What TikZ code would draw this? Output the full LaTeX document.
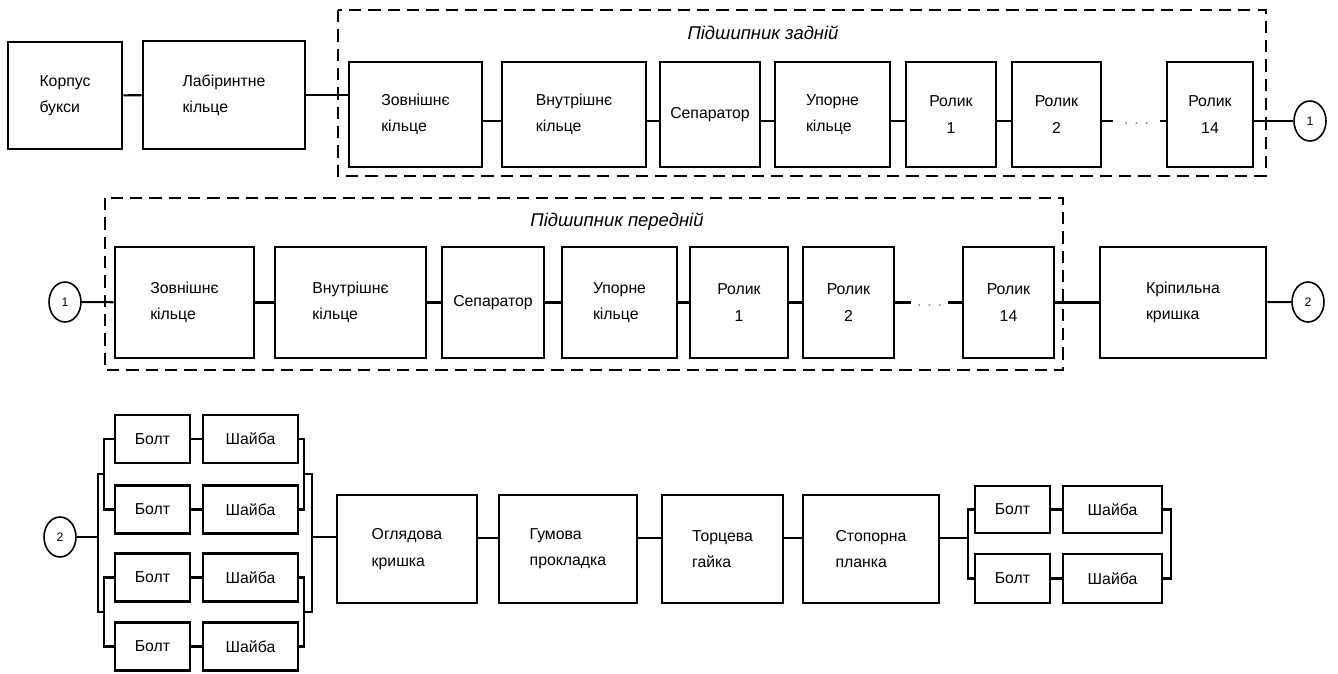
\documentclass[tikz,border=0pt]{standalone}
\usepackage{fontspec}
\setmainfont{Liberation Sans}
\usetikzlibrary{calc,shapes.geometric}

\tikzset{
  blk/.style 2 args={draw,line width=1.5pt,minimum width=#1*0.02cm,minimum height=#2*0.02cm,
    inner sep=0pt,align=left,font=\fontsize{9}{15}\selectfont},
  cn/.style={line width=1.2pt},
  grp/.style={line width=1.3pt,dash pattern=on 7pt off 4pt},
  refc/.style={draw,ellipse,line width=0.9pt,minimum width=0.64cm,minimum height=0.8cm,
    inner sep=0pt,font=\fontsize{7}{8}\selectfont},
  dts/.style={minimum width=#1*0.02cm,inner sep=0pt,text=gray,font=\small},
  ttl/.style={font=\fontsize{10.5}{12}\selectfont\itshape}
}

\begin{document}
\begin{tikzpicture}[x=0.02cm,y=-0.02cm]
\useasboundingbox (0,0) rectangle (1338,673);
% row 1
\coordinate (ax1) at (0,121);
\draw[grp] (338,10) rectangle (1266,176);
\node[ttl] (zadn) at (763,33) {Підшипник задній};
\node[blk={114}{107}] (korpus) at (65,95.5) {Корпус\\букси};
\node[blk={162}{108}] (labir) at (224,95) {Лабіринтне\\кільце};
\node[blk={133}{105}] (zov1) at (415.5,114.5) {Зовнішнє\\кільце};
\node[blk={144}{105}] (vnu1) at (574,114.5) {Внутрішнє\\кільце};
\node[blk={100}{105},align=center] (sep1) at (710,114.5) {Сепаратор};
\node[blk={115}{105}] (upo1) at (832.5,114.5) {Упорне\\кільце};
\node[blk={90}{105},align=center] (rol1a) at (951,114.5) {Ролик\\1};
\node[blk={89}{105},align=center] (rol2a) at (1056.5,114.5) {Ролик\\2};
\node[dts={47}] (dotsa) at (1136.5,121) {\strut. . .};
\node[blk={86}{105},align=center] (rol14a) at (1210,114.5) {Ролик\\14};
\node[refc] (c1a) at (1310,121) {1};
\draw[cn] (korpus) -- (labir);
\draw[cn] (labir.east) -- (labir.east -| zov1.west);
\draw[cn] (zov1.east |- ax1) -- (vnu1.west |- ax1);
\draw[cn] (vnu1.east |- ax1) -- (sep1.west |- ax1);
\draw[cn] (sep1.east |- ax1) -- (upo1.west |- ax1);
\draw[cn] (upo1.east |- ax1) -- (rol1a.west |- ax1);
\draw[cn] (rol1a.east |- ax1) -- (rol2a.west |- ax1);
\draw[cn] (rol2a.east |- ax1) -- (dotsa);
\draw[cn] (dotsa) -- (rol14a.west |- ax1);
\draw[cn] (rol14a.east |- ax1) -- (c1a);
% row 2
\draw[grp] (105,198) rectangle (1063,370);
\node[ttl] (pered) at (617,222) {Підшипник передній};
\node[refc] (c1b) at (65,302) {1};
\node[blk={139}{111}] (zov2) at (184.5,302.5) {Зовнішнє\\кільце};
\node[blk={151}{111}] (vnu2) at (350.5,302.5) {Внутрішнє\\кільце};
\node[blk={102}{111},align=center] (sep2) at (493,302.5) {Сепаратор};
\node[blk={115}{111}] (upo2) at (619.5,302.5) {Упорне\\кільце};
\node[blk={98}{111},align=center] (rol1b) at (739,302.5) {Ролик\\1};
\node[blk={91}{111},align=center] (rol2b) at (848.5,302.5) {Ролик\\2};
\node[dts={37}] (dotsb) at (929.5,302.5) {\strut. . .};
\node[blk={91}{111},align=center] (rol14b) at (1008.5,302.5) {Ролик\\14};
\node[blk={166}{111}] (kripl) at (1183,302.5) {Кріпильна\\кришка};
\node[refc] (c2a) at (1308,302) {2};
\draw[cn] (c1b) -- (zov2);
\draw[cn] (zov2) -- (vnu2);
\draw[cn] (vnu2) -- (sep2);
\draw[cn] (sep2) -- (upo2);
\draw[cn] (upo2) -- (rol1b);
\draw[cn] (rol1b) -- (rol2b);
\draw[cn] (rol2b) -- (dotsb);
\draw[cn] (dotsb) -- (rol14b);
\draw[cn] (rol14b) -- (kripl);
\draw[cn] (kripl) -- (c2a);
% row 3
\coordinate (ax3) at (0,538);
\node[refc] (c2b) at (60,537) {2};
\node[blk={75}{48},align=center] (b1) at (152.5,439) {Болт};
\node[blk={95}{48},align=center] (s1) at (250.5,439) {Шайба};
\node[blk={75}{48},align=center] (b2) at (152.5,509.5) {Болт};
\node[blk={95}{48},align=center] (s2) at (250.5,509.5) {Шайба};
\node[blk={75}{48},align=center] (b3) at (152.5,577.5) {Болт};
\node[blk={95}{48},align=center] (s3) at (250.5,577.5) {Шайба};
\node[blk={75}{48},align=center] (b4) at (152.5,646.5) {Болт};
\node[blk={95}{48},align=center] (s4) at (250.5,646.5) {Шайба};
\draw[cn] (b1) -- (s1);
\draw[cn] (b2) -- (s2);
\draw[cn] (b3) -- (s3);
\draw[cn] (b4) -- (s4);
\coordinate (lj) at (98,537);
\coordinate (rj) at (312,537);
\draw[cn] (c2b) -- (lj);
\draw[cn] (b1.west) -- ++(-10,0) |- (b2.west);
\draw[cn] (b3.west) -- ++(-10,0) |- (b4.west);
\draw[cn] ($(b1.west)!.5!(b2.west)+(-10,0)$) -| (lj) |- ($(b3.west)!.5!(b4.west)+(-10,0)$);
\draw[cn] (s1.east) -- ++(5,0) |- (s2.east);
\draw[cn] (s3.east) -- ++(5,0) |- (s4.east);
\draw[cn] ($(s1.east)!.5!(s2.east)+(5,0)$) -| (rj) |- ($(s3.east)!.5!(s4.east)+(5,0)$);
\node[blk={140}{108}] (ogl) at (407,549) {Оглядова\\кришка};
\node[blk={138}{108}] (gum) at (568,549) {Гумова\\прокладка};
\node[blk={121}{108}] (torc) at (722.5,549) {Торцева\\гайка};
\node[blk={136}{108}] (stop) at (871,549) {Стопорна\\планка};
\draw[cn] (rj) -- (ogl.west |- rj);
\draw[cn] (ogl.east |- ax3) -- (gum.west |- ax3);
\draw[cn] (gum.east |- ax3) -- (torc.west |- ax3);
\draw[cn] (torc.east |- ax3) -- (stop.west |- ax3);
\node[blk={75}{47},align=center] (ba) at (1012.5,509.5) {Болт};
\node[blk={99}{47},align=center] (sa) at (1112.5,509.5) {Шайба};
\node[blk={75}{49},align=center] (bb) at (1012.5,578.5) {Болт};
\node[blk={99}{49},align=center] (sb) at (1112.5,578.5) {Шайба};
\coordinate (rj2) at (968,538);
\draw[cn] (stop.east |- ax3) -- (rj2);
\draw[cn] (ba.west) -| (rj2) |- (bb.west);
\draw[cn] (ba) -- (sa);
\draw[cn] (bb) -- (sb);
\draw[cn] (sa.east) -- ++(8,0) |- (sb.east);
\end{tikzpicture}
\end{document}
